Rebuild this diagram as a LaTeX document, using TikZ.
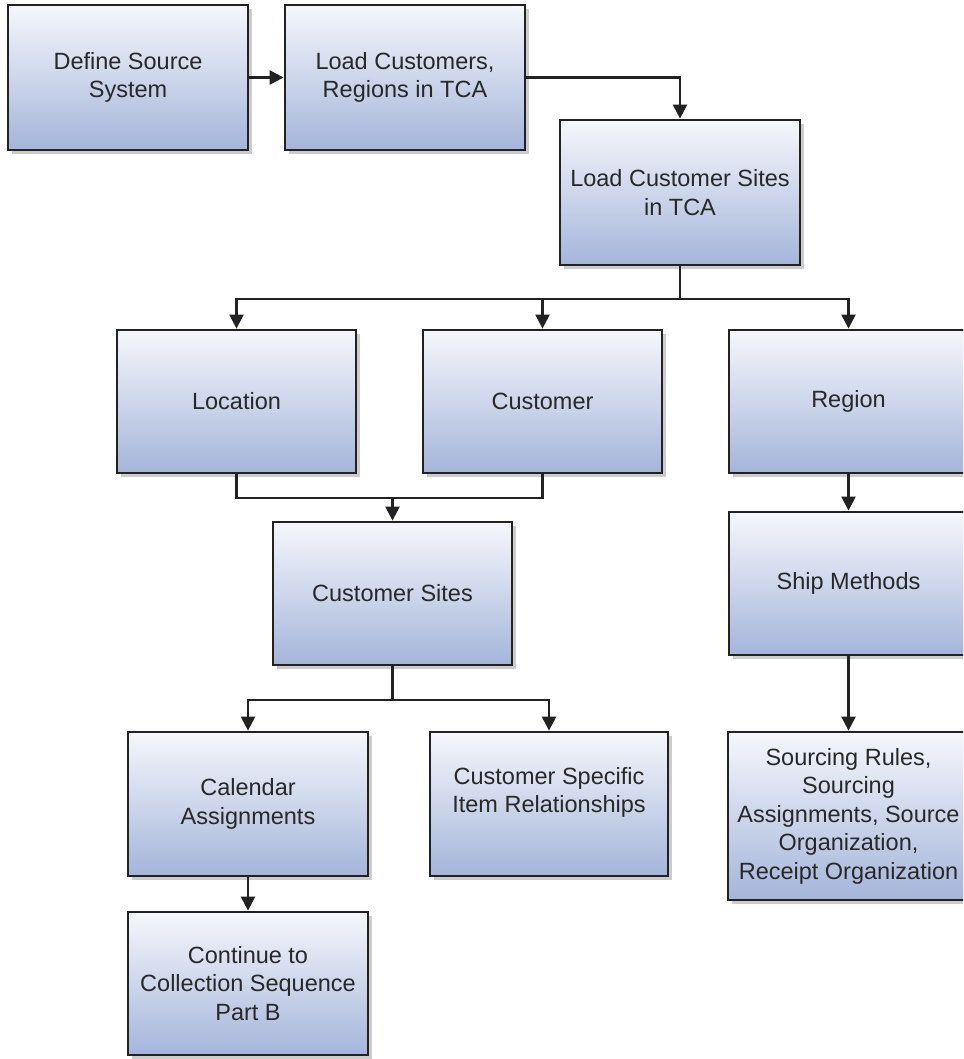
\documentclass[tikz,border=0pt]{standalone}
\usepackage{fontspec}
\setmainfont{Liberation Sans}
\usetikzlibrary{arrows.meta,shadows}
\definecolor{boxtop}{RGB}{246,247,252}
\definecolor{boxbot}{RGB}{164,181,218}
\definecolor{linec}{RGB}{34,34,34}
\definecolor{textc}{RGB}{40,40,40}
\tikzset{
  stepbox/.style={draw=linec, line width=2.8pt, top color=boxtop, bottom color=boxbot,
    minimum width=240pt, minimum height=145pt, inner sep=2pt, align=center,
    font=\fontsize{23.5}{28.5}\selectfont, text=textc,
    drop shadow={shadow xshift=4pt, shadow yshift=-4pt, fill=black, opacity=0.2}},
  conn/.style={draw=linec, line width=2.3pt},
  arr/.style={conn, -{Triangle[length=14pt,width=14pt]}},
}
\begin{document}
\begin{tikzpicture}[x=1pt,y=-1pt]
\useasboundingbox (0,0) rectangle (963,1059);
\begin{scope}
\clip (0,0) rectangle (963,1059);
\node[stepbox] (def) at (128,77.5) {Define Source\\System};
\node[stepbox] (lcr) at (405,77.5) {Load Customers,\\Regions in TCA};
\node[stepbox] (lcs) at (680,192.5) {Load Customer Sites\\in TCA};
\node[stepbox, minimum width=239pt, minimum height=143pt] (loc) at (236.5,401.5) {Location};
\node[stepbox, minimum width=239pt, minimum height=143pt] (cus) at (542.5,401.5) {Customer};
\node[stepbox, minimum width=239pt, minimum height=143pt] (reg) at (848.5,401.5) {Region};
\node[stepbox, minimum width=239pt, minimum height=143pt] (cs) at (392.5,593.5) {Customer Sites};
\node[stepbox, minimum width=239pt, minimum height=143pt] (ship) at (848.5,583.5) {Ship Methods};
\node[stepbox, minimum width=240pt, minimum height=144pt] (cal) at (248,804) {Calendar\\Assignments};
\node[stepbox, minimum width=238pt, minimum height=144pt] (csi) at (549,804) {Customer Specific\\Item Relationships\\\mbox{}};
\node[stepbox, minimum width=241pt, minimum height=168pt] (src) at (848.5,816) {Sourcing Rules,\\Sourcing\\Assignments, Source\\Organization,\\Receipt Organization};
\node[stepbox, minimum width=240pt, minimum height=143pt] (cont) at (248,983.5) {Continue to\\Collection Sequence\\Part B};

\draw[arr] (def.east) -- (lcr.west);
\draw[arr] (lcr.east) -| (lcs.north);
\coordinate (bus1) at (680,299);
\draw[conn] (lcs.south) -- (bus1);
\draw[arr] (bus1) -| (loc.north);
\draw[arr] (bus1) -| (cus.north);
\draw[arr] (bus1) -| (reg.north);
\coordinate (bus2) at (392.5,498);
\draw[conn] (loc.south) |- (bus2);
\draw[conn] (cus.south) |- (bus2);
\draw[arr] (bus2) -- (cs.north);
\coordinate (bus3) at (392.5,700);
\draw[conn] (cs.south) -- (bus3);
\draw[arr] (bus3) -| (cal.north);
\draw[arr] (bus3) -| (csi.north);
\draw[arr] (cal.south) -- (cont.north);
\draw[arr] (reg.south) -- (ship.north);
\draw[arr] (ship.south) -- (src.north);
\end{scope}
\end{tikzpicture}
\end{document}
